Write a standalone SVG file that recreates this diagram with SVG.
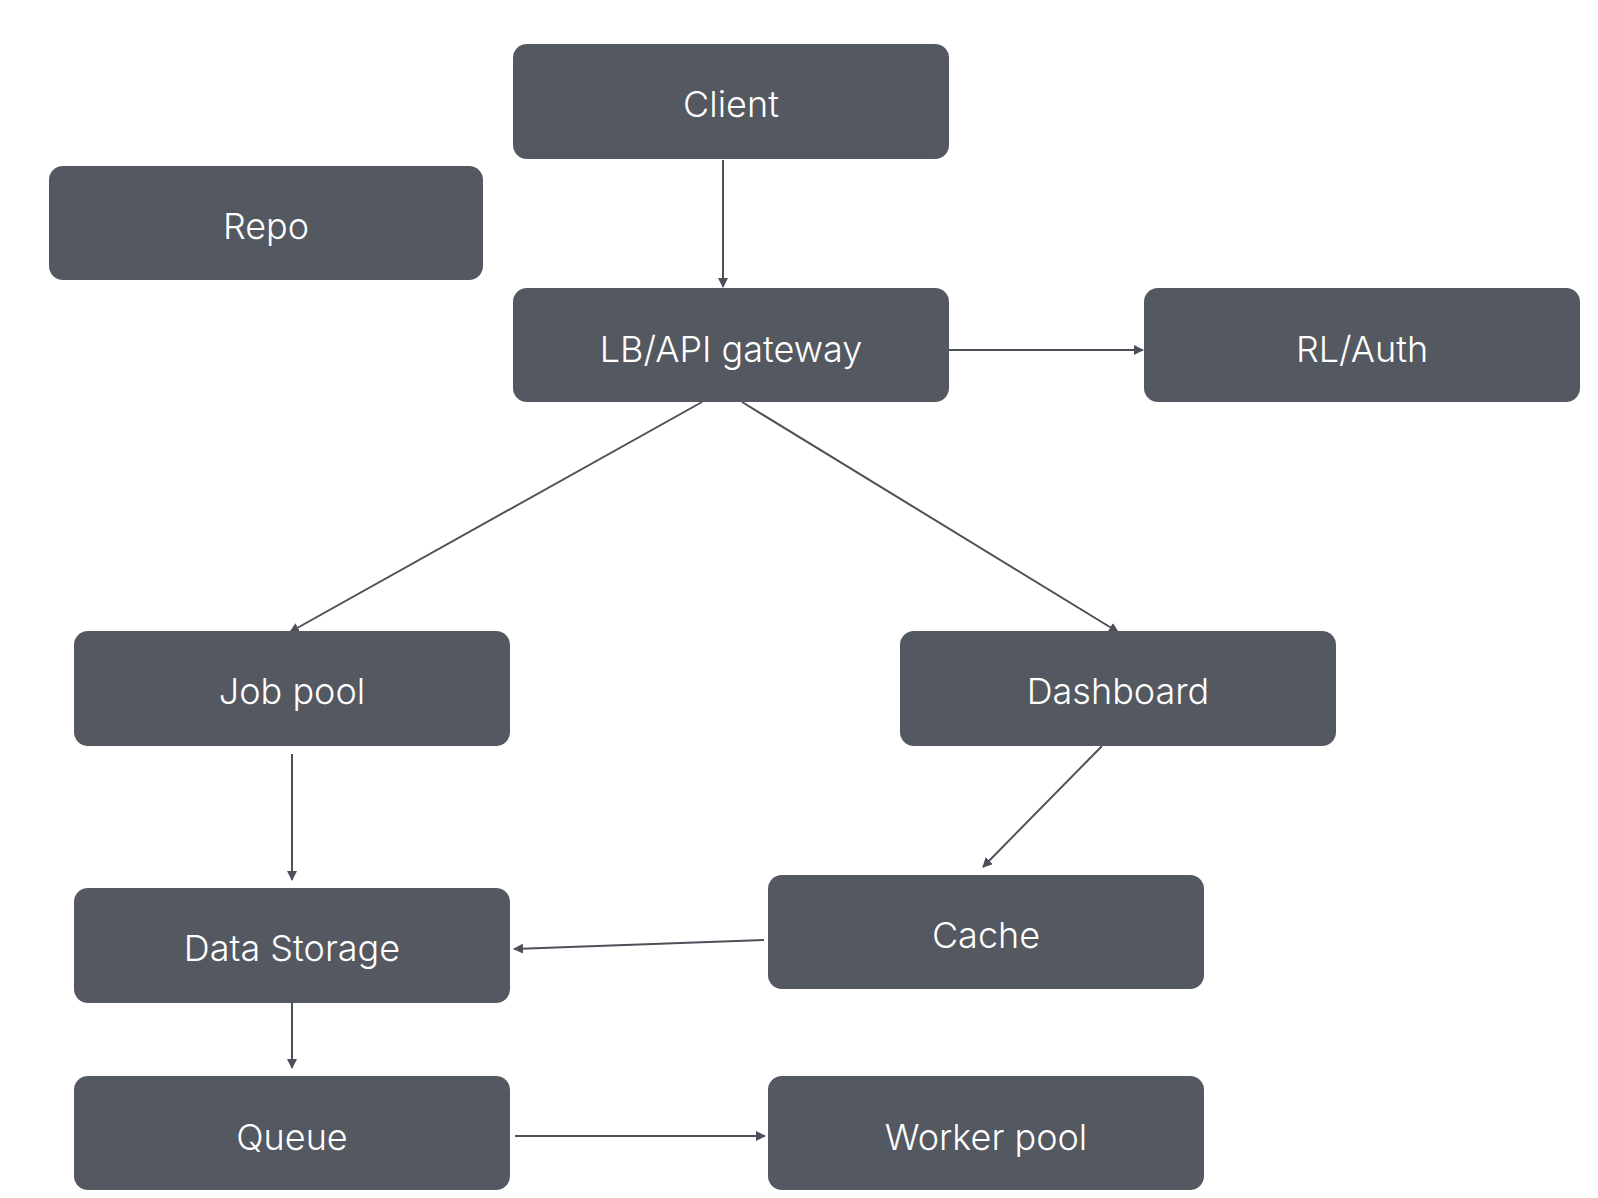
<svg xmlns="http://www.w3.org/2000/svg" width="1598" height="1198" viewBox="0 0 1598 1198">
<style>
.n rect{fill:#545860;}
.n text{fill:#ffffff;font-family:Inter,"Liberation Sans",sans-serif;font-weight:300;font-size:36px;text-anchor:middle;dominant-baseline:central;}
.c line{stroke:#4d5058;stroke-width:2;fill:none;marker-end:url(#ah);}
</style>
<defs>
<marker id="ah" viewBox="0 0 10 10" refX="9" refY="5" markerWidth="5" markerHeight="5" orient="auto" markerUnits="strokeWidth">
<path d="M0,0 L10,5 L0,10 z" fill="#4d5058"/>
</marker>
</defs>
<rect width="1598" height="1198" fill="#ffffff"/>
<g class="c">
<line x1="723" y1="160" x2="723" y2="287"/>
<line x1="949" y1="350" x2="1143" y2="350"/>
<line x1="702" y1="402" x2="290" y2="632"/>
<line x1="742" y1="402" x2="1118" y2="632"/>
<line x1="292" y1="754" x2="292" y2="880"/>
<line x1="1102" y1="746" x2="983" y2="867"/>
<line x1="764" y1="940" x2="514" y2="949"/>
<line x1="292" y1="1003" x2="292" y2="1068"/>
<line x1="515" y1="1136" x2="765" y2="1136"/>
</g>
<g id="client" class="n"><rect x="513" y="44" width="436" height="115" rx="14"/><text x="731" y="104">Client</text></g>
<g id="repo" class="n"><rect x="49" y="166" width="434" height="114" rx="14"/><text x="266" y="226">Repo</text></g>
<g id="lb" class="n"><rect x="513" y="288" width="436" height="114" rx="14"/><text x="731" y="349">LB/API gateway</text></g>
<g id="rlauth" class="n"><rect x="1144" y="288" width="436" height="114" rx="14"/><text x="1362" y="349">RL/Auth</text></g>
<g id="jobpool" class="n"><rect x="74" y="631" width="436" height="115" rx="14"/><text x="292" y="691">Job pool</text></g>
<g id="dashboard" class="n"><rect x="900" y="631" width="436" height="115" rx="14"/><text x="1118" y="691">Dashboard</text></g>
<g id="datastorage" class="n"><rect x="74" y="888" width="436" height="115" rx="14"/><text x="292" y="948">Data Storage</text></g>
<g id="cache" class="n"><rect x="768" y="875" width="436" height="114" rx="14"/><text x="986" y="935">Cache</text></g>
<g id="queue" class="n"><rect x="74" y="1076" width="436" height="114" rx="14"/><text x="292" y="1137">Queue</text></g>
<g id="workerpool" class="n"><rect x="768" y="1076" width="436" height="114" rx="14"/><text x="986" y="1137">Worker pool</text></g>
</svg>
